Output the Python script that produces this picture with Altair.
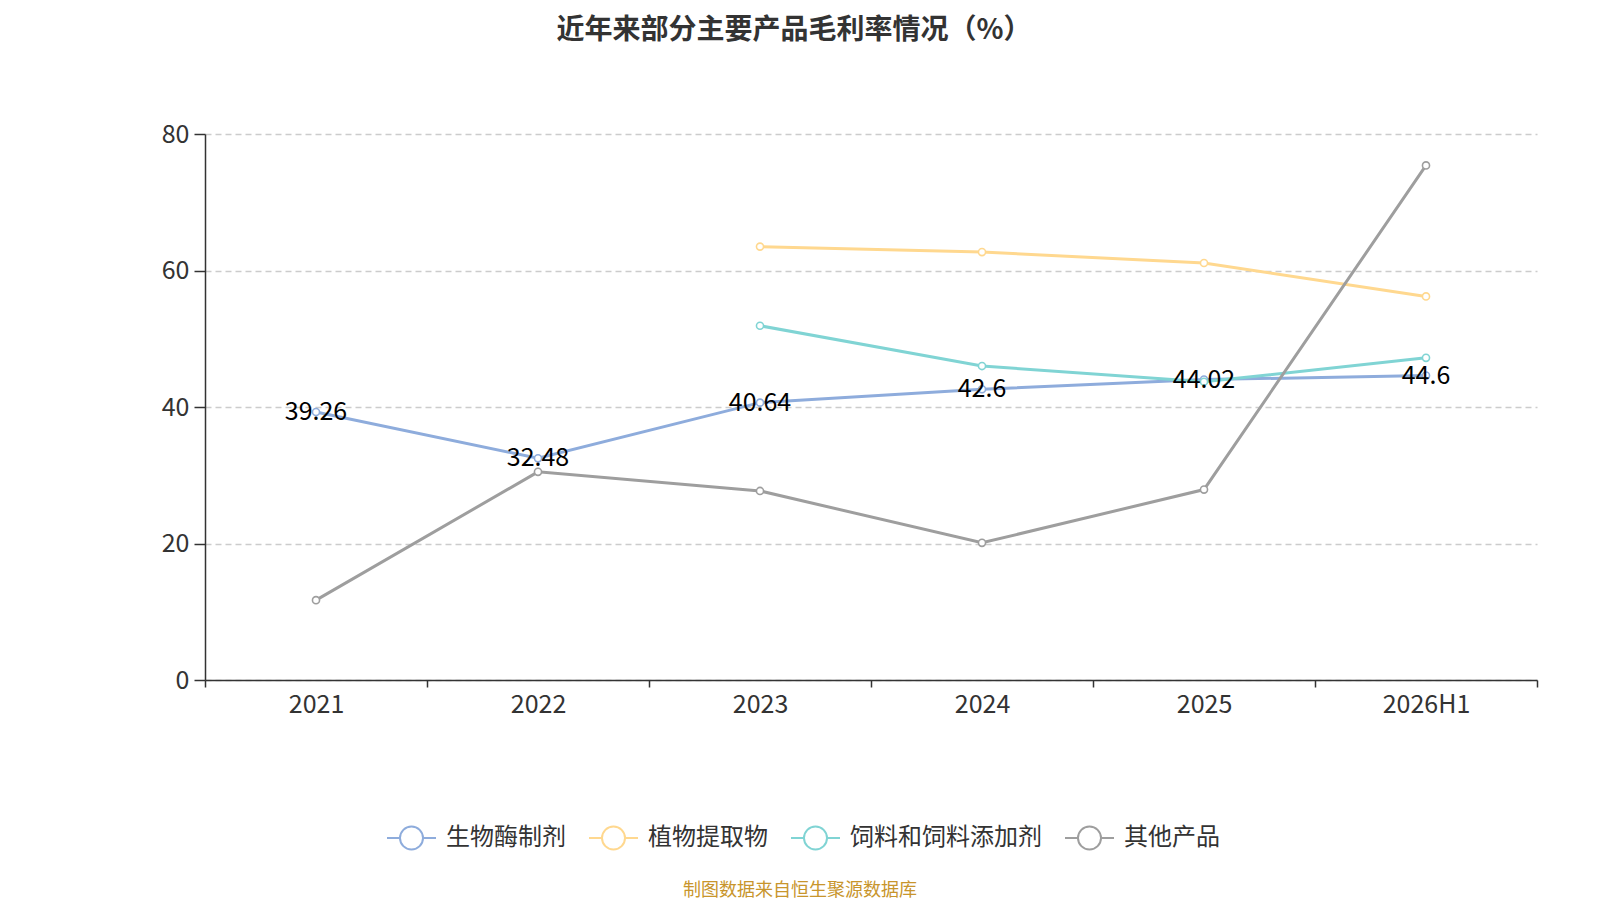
import altair as alt
import pandas as pd

years = ["2021", "2022", "2023", "2024", "2025", "2026H1"]
enzyme = [39.26, 32.48, 40.64, 42.6, 44.02, 44.6]
plant = [None, None, 63.5, 62.7, 61.1, 56.2]
feed = [None, None, 51.9, 46.0, 43.7, 47.2]
other = [11.7, 30.5, 27.7, 20.1, 27.9, 75.4]
series_names = ["生物酶制剂", "植物提取物", "饲料和饲料添加剂", "其他产品"]
colors = ["#8eacdc", "#ffd88f", "#80d4d4", "#9e9e9e"]
title_text = "近年来部分主要产品毛利率情况（%）"
source_text = "制图数据来自恒生聚源数据库"

rows = []
for name, vals in zip(series_names, [enzyme, plant, feed, other]):
    for y, v in zip(years, vals):
        if v is not None:
            rows.append({"year": y, "series": name, "value": v, "order": series_names.index(name)})
df = pd.DataFrame(rows)
lab = pd.DataFrame({"year": years, "value": enzyme, "label": [str(v) for v in enzyme]})

FONT = "Noto Sans CJK SC"

x_enc = alt.X("year:N", sort=years, title=None,
              scale=alt.Scale(paddingInner=0, paddingOuter=0),
              axis=alt.Axis(labelAngle=0, labelFontSize=25, labelColor="#333333",
                            labelPadding=5, tickBand="extent", tickSize=7,
                            domainColor="#333333", tickColor="#333333",
                            domainWidth=1.5, tickWidth=1.5, grid=False, labelFont=FONT))
y_enc = alt.Y("value:Q", title=None,
              scale=alt.Scale(domain=[0, 80], nice=False),
              axis=alt.Axis(values=[0, 20, 40, 60, 80], labelFontSize=25, labelColor="#333333",
                            labelPadding=5, tickSize=11, domainColor="#333333", tickColor="#333333",
                            domainWidth=1.5, tickWidth=1.5, grid=True, gridDash=[6, 4],
                            gridColor="#cccccc", gridWidth=1.3, labelFont=FONT))

legend_path = ("M-1,0L-0.47,0M0.47,0A0.47,0.47 0 1,1 -0.47,0A0.47,0.47 0 1,1 0.47,0M0.47,0L1,0")

color_enc = alt.Color("series:N", sort=series_names,
                      scale=alt.Scale(domain=series_names, range=colors),
                      legend=alt.Legend(title=None, orient="none", legendX=181, legendY=678,
                                        direction="horizontal", symbolType=legend_path,
                                        symbolSize=2400, symbolStrokeWidth=2,
                                        symbolFillColor="white", labelFontSize=24,
                                        labelColor="#333333", labelFont=FONT, labelLimit=0,
                                        labelOffset=9, columnPadding=19, padding=0))

lines = alt.Chart(df).mark_line(strokeWidth=3).encode(
    x=x_enc, y=y_enc, color=color_enc, detail="series:N", order="order:Q")

points = alt.Chart(df).mark_point(filled=True, fill="white", size=50, strokeWidth=1.6, opacity=1).encode(
    x=alt.X("year:N", sort=years), y="value:Q",
    stroke=alt.Color("series:N", scale=alt.Scale(domain=series_names, range=colors), legend=None))

labels = alt.Chart(lab).mark_text(fontSize=25, color="#000000", baseline="middle", font=FONT).encode(
    x=alt.X("year:N", sort=years), y="value:Q", text="label:N")

src = alt.Chart(pd.DataFrame({"t": [source_text]})).mark_text(
    fontSize=18, color="#c8952c", font=FONT, baseline="middle").encode(
    x=alt.value(595), y=alt.value(757), text="t:N")

chart = alt.layer(lines, points, labels, src).properties(
    width=1332, height=546,
    autosize=alt.AutoSizeParams(type="none"),
    padding={"left": 197, "top": 126, "right": 50, "bottom": 220},
    title=alt.Title(title_text, fontSize=28, fontWeight="bold", color="#333333",
                    font=FONT, anchor="middle", dx=-77, offset=77),
).configure_view(stroke=None).resolve_scale(color="independent")

chart.save("out.html", embed_options={"renderer": "svg", "actions": False})
